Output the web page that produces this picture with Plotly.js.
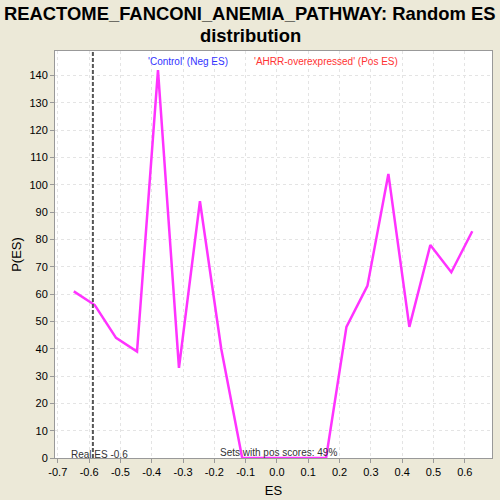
<!DOCTYPE html>
<html><head><meta charset="utf-8">
<script src="https://cdn.plot.ly/plotly-3.0.1.min.js"></script>
<style>html,body{margin:0;padding:0;background:#ECE9D8;}#c{width:500px;height:500px;}</style>
</head><body><div id="c"></div>
<script>
var esValues = [-0.649, -0.582, -0.514, -0.447, -0.380, -0.313, -0.246, -0.178, -0.111, -0.044, 0.023, 0.090, 0.157, 0.222, 0.289, 0.356, 0.423, 0.490, 0.557, 0.624];
var pValues = [61, 56, 44, 39, 142, 33, 94, 40, 0, 0, 0, 0, 0, 48, 63, 104, 48, 78, 68, 83];
var realES = -0.588;
var xTicks = [-0.7, -0.6, -0.5, -0.4, -0.3, -0.2, -0.1, 0.0, 0.1, 0.2, 0.3, 0.4, 0.5, 0.6];
var xTickText = ['-0.7','-0.6','-0.5','-0.4','-0.3','-0.2','-0.1','0.0','0.1','0.2','0.3','0.4','0.5','0.6'];
var yTicks = [0,10,20,30,40,50,60,70,80,90,100,110,120,130,140];
var titleLines = ['REACTOME_FANCONI_ANEMIA_PATHWAY: Random ES', 'distribution'];

var font = "Liberation Sans, Arial, sans-serif";
var data = [{
  x: esValues, y: pValues, type: 'scatter', mode: 'lines',
  line: {color: '#FF33FF', width: 2.5}, hoverinfo: 'skip'
}];
var titleX = (250 - 55) / 437;
var layout = {
  width: 500, height: 500,
  paper_bgcolor: '#ECE9D8', plot_bgcolor: '#FFFFFF',
  margin: {l: 55, r: 8, t: 51, b: 42},
  showlegend: false,
  xaxis: {range: [-0.709, 0.687], tickvals: xTicks, ticktext: xTickText,
    showgrid: true, gridcolor: '#E4E4E4', griddash: '3px,3px', gridwidth: 1,
    zeroline: false, showline: true, linecolor: '#999', mirror: true,
    ticks: 'outside', ticklen: 4, tickcolor: '#999',
    tickfont: {family: font, size: 11, color: '#000'},
    title: {text: 'ES', font: {family: font, size: 13, color: '#000'}, standoff: 8}},
  yaxis: {range: [0, 149], tickvals: yTicks,
    showgrid: true, gridcolor: '#E4E4E4', griddash: '3px,3px', gridwidth: 1,
    zeroline: false, showline: true, linecolor: '#999', mirror: true,
    ticks: 'outside', ticklen: 4, tickcolor: '#999',
    tickfont: {family: font, size: 11, color: '#000'},
    title: {text: 'P(ES)', font: {family: font, size: 13, color: '#000'}, standoff: 4}},
  shapes: [{type: 'line', xref: 'x', yref: 'paper', x0: realES, x1: realES, y0: 0, y1: 1,
    line: {color: '#555', width: 2, dash: '4px,2px'}}],
  annotations: [
    {text: '<b>' + titleLines[0] + '</b>', xref: 'paper', yref: 'paper', x: titleX, y: 1.093, xanchor: 'center', yanchor: 'middle', showarrow: false, font: {family: font, size: 18.4, color: '#000'}},
    {text: '<b>' + titleLines[1] + '</b>', xref: 'paper', yref: 'paper', x: titleX, y: 1.037, xanchor: 'center', yanchor: 'middle', showarrow: false, font: {family: font, size: 18.4, color: '#000'}},
    {text: "'Control' (Neg ES)", xref: 'paper', yref: 'paper', x: 0.305, y: 0.975, xanchor: 'center', yanchor: 'middle', showarrow: false, font: {family: font, size: 10, color: '#3333FF'}},
    {text: "'AHRR-overexpressed' (Pos ES)", xref: 'paper', yref: 'paper', x: 0.62, y: 0.975, xanchor: 'center', yanchor: 'middle', showarrow: false, font: {family: font, size: 10, color: '#FF3333'}},
    {text: 'Real ES -0.6', xref: 'paper', yref: 'paper', x: 0.033, y: 0.008, xanchor: 'left', yanchor: 'middle', showarrow: false, font: {family: font, size: 10, color: '#333'}},
    {text: 'Sets with pos scores: 49%', xref: 'paper', yref: 'paper', x: 0.372, y: 0.013, xanchor: 'left', yanchor: 'middle', showarrow: false, font: {family: font, size: 10, color: '#333'}}
  ]
};
Plotly.newPlot('c', data, layout, {displayModeBar: false, staticPlot: true});
</script></body></html>
